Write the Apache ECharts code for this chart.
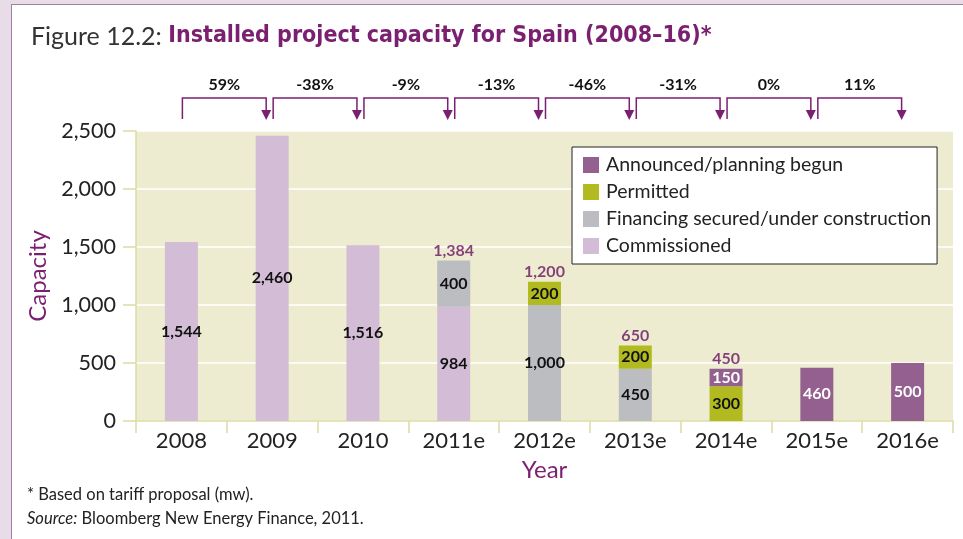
<!DOCTYPE html>
<html>
<head>
<meta charset="utf-8">
<script src="https://cdn.jsdelivr.net/npm/echarts@6/dist/echarts.min.js"></script>
<style>
  html, body { margin: 0; padding: 0; background: #e7dce8; }
  #panel { position: absolute; left: 11px; top: 4px; width: 960px; height: 540px;
           background: #ffffff; border-left: 1.5px solid #a27fa5; border-top: 1.5px solid #a27fa5; }
  #chart { position: absolute; left: 0; top: 0; width: 963px; height: 539px; }
</style>
</head>
<body>
<div id="panel"></div>
<div id="chart"></div>
<script>
// Years on the category axis
const years = ['2008', '2009', '2010', '2011e', '2012e', '2013e', '2014e', '2015e', '2016e'];

// Capacity (mw) by project stage, stacked bottom to top
const commissioned = [1544, 2460, 1516, 984, null, null, null, null, null];
const financing    = [null, null, null, 400, 1000, 450, null, null, null];
const permitted    = [null, null, null, null, 200, 200, 300, null, null];
const announced    = [null, null, null, null, null, null, 150, 460, 500];

// Totals printed above the mixed-stage bars
const totals = [null, null, null, 1384, 1200, 650, 450, null, null];

// Year-on-year change between neighbouring years
const changes = ['59%', '-38%', '-9%', '-13%', '-46%', '-31%', '0%', '11%'];

// Y axis ticks
const yTicks = [0, 500, 1000, 1500, 2000, 2500];

const purple = '#7b1f70';
const colors = {
  announced: '#93608f',
  permitted: '#b1ba1e',
  financing: '#bcbdc1',
  commissioned: '#d3bdd6'
};
const fmt = v => Number(v).toLocaleString('en-US');
const baseFont = 'Lato, "Noto Sans", sans-serif';

const chart = echarts.init(document.getElementById('chart'), null, { renderer: 'canvas' });

const barLabel = (color) => ({
  show: true,
  position: 'inside',
  fontSize: 16,
  fontWeight: 'bold',
  fontFamily: baseFont,
  color: color,
  formatter: p => fmt(p.value)
});

function stackBar(name, data, color, labelColor) {
  return {
    name: name,
    type: 'bar',
    stack: 'cap',
    data: data,
    barWidth: 33,
    itemStyle: { color: color },
    label: barLabel(labelColor),
    emphasis: { disabled: true },
    z: 3
  };
}

chart.setOption({
  animation: false,
  textStyle: { fontFamily: baseFont },
  title: {
    left: 26,
    top: 19,
    text: '{a|Figure 12.2: }{b|Installed project capacity for Spain (2008–16)*}',
    textStyle: {
      rich: {
        a: { fontFamily: baseFont, fontWeight: 'normal', fontSize: 25, color: '#333' },
        b: { fontFamily: '"DejaVu Sans Condensed", "Liberation Sans Narrow", sans-serif',
             fontWeight: 'bold', fontSize: 23, color: purple }
      }
    }
  },
  legend: {
    orient: 'vertical',
    left: 572,
    top: 147,
    data: ['Announced/planning begun', 'Permitted', 'Financing secured/under construction', 'Commissioned'],
    icon: 'rect',
    itemWidth: 16,
    itemHeight: 16,
    itemGap: 7,
    padding: [8, 6, 8, 11],
    backgroundColor: '#ffffff',
    borderColor: '#222222',
    borderWidth: 1,
    borderRadius: 0,
    selectedMode: false,
    textStyle: { fontSize: 19.5, color: '#222', fontFamily: baseFont, padding: [0, 0, 0, 2] }
  },
  grid: {
    left: 136,
    right: 10,
    top: 131,
    bottom: 118,
    show: true,
    backgroundColor: '#edecd0',
    borderWidth: 0
  },
  xAxis: {
    type: 'category',
    data: years,
    name: 'Year',
    nameLocation: 'middle',
    nameGap: 37,
    nameTextStyle: { fontSize: 24, color: purple, fontFamily: baseFont },
    axisLine: { show: true, lineStyle: { color: '#dcdca2', width: 1.5 } },
    axisTick: { show: true, alignWithLabel: false, length: 12, lineStyle: { color: '#dcdca2', width: 1.5 } },
    axisLabel: { fontSize: 22, color: '#222', margin: 9, fontFamily: baseFont },
    splitLine: { show: false }
  },
  yAxis: {
    type: 'value',
    min: yTicks[0],
    max: yTicks[yTicks.length - 1],
    interval: 500,
    name: 'Capacity',
    nameLocation: 'middle',
    nameRotate: 90,
    nameGap: 84,
    nameTextStyle: { fontSize: 24, color: purple, fontFamily: baseFont },
    axisLine: { show: true, lineStyle: { color: '#dcdca2', width: 1.5 } },
    axisTick: { show: true, length: 13, lineStyle: { color: '#dcdca2', width: 1.5 } },
    axisLabel: { fontSize: 21.5, color: '#222', margin: 20, fontFamily: baseFont, formatter: v => fmt(v) },
    splitLine: { show: true, lineStyle: { color: '#ffffff', width: 1.5 } }
  },
  series: [
    stackBar('Commissioned', commissioned, colors.commissioned, '#111'),
    stackBar('Financing secured/under construction', financing, colors.financing, '#111'),
    stackBar('Permitted', permitted, colors.permitted, '#111'),
    stackBar('Announced/planning begun', announced, colors.announced, '#ffffff'),
    {
      name: 'total',
      type: 'scatter',
      data: totals,
      symbolSize: 0,
      silent: true,
      z: 4,
      label: {
        show: true,
        position: 'top',
        distance: 2,
        fontSize: 16,
        fontWeight: 'bold',
        color: '#6a1462',
        fontFamily: baseFont,
        formatter: p => fmt(p.value)
      }
    },
    {
      // change brackets running from one year to the next, above the plot
      name: 'change',
      type: 'custom',
      clip: false,
      silent: true,
      data: changes.map((c, i) => [i, 0]),
      renderItem: function (params, api) {
        const i = api.value(0);
        const x0 = api.coord([i, 0])[0] + 1;
        const x1 = api.coord([i + 1, 0])[0] - 6;
        const yTop = 98, yBot = 119;
        return {
          type: 'group',
          children: [
            {
              type: 'polyline',
              shape: { points: [[x0, yBot], [x0, yTop], [x1, yTop], [x1, yBot - 6]] },
              style: { stroke: purple, lineWidth: 1.5, fill: null }
            },
            {
              type: 'polygon',
              shape: { points: [[x1 - 5, yBot - 9], [x1 + 5, yBot - 9], [x1, yBot + 1]] },
              style: { fill: purple }
            },
            {
              type: 'text',
              style: {
                text: changes[i],
                x: (x0 + x1) / 2,
                y: 85,
                align: 'center',
                verticalAlign: 'middle',
                fontSize: 16,
                fontWeight: 'bold',
                fontFamily: baseFont,
                fill: '#111'
              }
            }
          ]
        };
      }
    }
  ],
  graphic: [
    {
      type: 'text',
      left: 27,
      top: 486,
      style: {
        text: '* Based on tariff proposal (mw).',
        fontSize: 16.5,
        fontFamily: baseFont,
        fill: '#222'
      }
    },
    {
      type: 'text',
      left: 27,
      top: 510,
      style: {
        text: '{i|Source:} Bloomberg New Energy Finance, 2011.',
        fontSize: 16.5,
        fontFamily: baseFont,
        fill: '#222',
        rich: { i: { fontStyle: 'italic', fontSize: 16.5, fontFamily: baseFont, fill: '#222' } }
      }
    }
  ]
});
</script>
</body>
</html>
